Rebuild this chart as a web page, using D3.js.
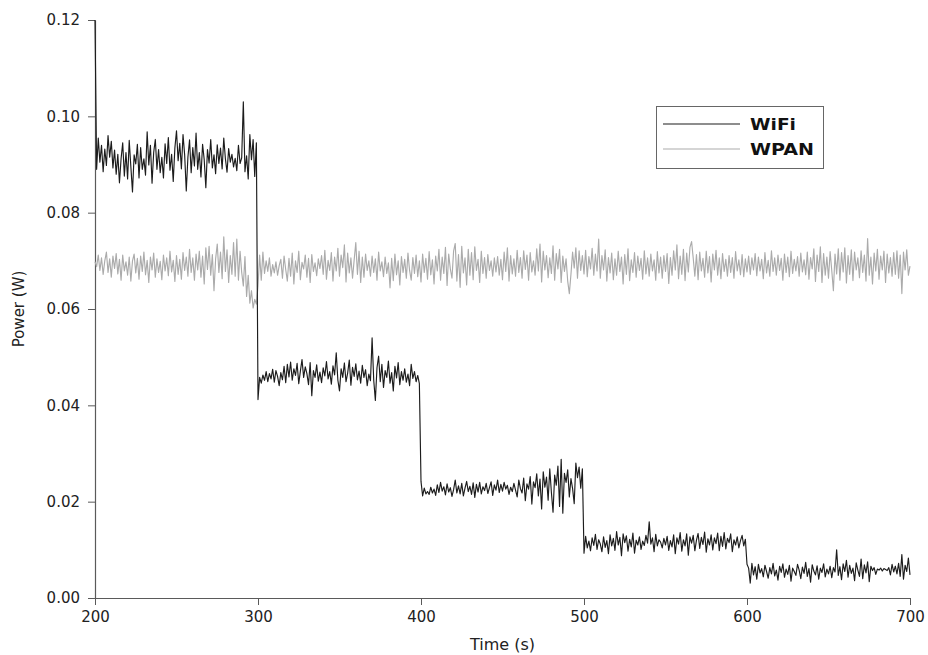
<!DOCTYPE html>
<html>
<head>
<meta charset="utf-8">
<script src="https://cdn.jsdelivr.net/npm/d3@7"></script>
<style>
  html, body { margin: 0; padding: 0; background: #fff; }
  svg { display: block; }
  .tick text { font-family: "DejaVu Sans", sans-serif; }
</style>
</head>
<body>
<svg id="chart" width="928" height="655"></svg>
<script>
// Sampling: one reading per second from t = 200 s to t = 700 s
const startTime = 200;
const sampleStep = 1;

// WiFi interface power (W)
const wifiPower = [
  .1200,.0890,.0955,.0905,.0940,.0885,.0932,.0898,.0960,.0915,
  .0948,.0893,.0930,.0880,.0921,.0862,.0912,.0945,.0876,.0925,
  .0870,.0950,.0895,.0843,.0920,.0901,.0942,.0872,.0935,.0890,
  .0912,.0878,.0968,.0899,.0940,.0861,.0925,.0952,.0890,.0931,
  .0883,.0915,.0872,.0943,.0902,.0956,.0888,.0921,.0865,.0934,
  .0970,.0908,.0944,.0891,.0962,.0920,.0845,.0915,.0951,.0883,
  .0935,.0897,.0965,.0890,.0925,.0874,.0942,.0910,.0852,.0931,
  .0903,.0952,.0893,.0920,.0881,.0941,.0902,.0934,.0891,.0955,
  .0912,.0884,.0933,.0905,.0921,.0895,.0913,.0887,.0940,.0902,
  .0914,.1030,.0885,.0918,.0870,.0962,.0910,.0952,.0875,.0945,
  .0412,.0458,.0446,.0463,.0452,.0470,.0449,.0466,.0455,.0475,
  .0448,.0472,.0460,.0441,.0468,.0453,.0481,.0447,.0485,.0459,
  .0490,.0452,.0476,.0462,.0487,.0445,.0471,.0495,.0458,.0480,
  .0466,.0443,.0489,.0420,.0472,.0458,.0484,.0450,.0469,.0447,
  .0478,.0461,.0491,.0455,.0470,.0444,.0482,.0463,.0509,.0452,
  .0430,.0476,.0458,.0488,.0449,.0467,.0494,.0442,.0479,.0460,
  .0486,.0453,.0471,.0446,.0483,.0458,.0474,.0441,.0465,.0451,
  .0540,.0452,.0410,.0478,.0502,.0449,.0485,.0437,.0472,.0458,
  .0492,.0446,.0468,.0430,.0481,.0457,.0489,.0443,.0470,.0452,
  .0476,.0448,.0465,.0441,.0485,.0456,.0470,.0449,.0462,.0445,
  .0242,.0212,.0228,.0216,.0221,.0215,.0230,.0218,.0226,.0213,
  .0235,.0219,.0240,.0222,.0231,.0214,.0237,.0220,.0229,.0211,
  .0225,.0245,.0218,.0233,.0216,.0238,.0212,.0228,.0242,.0221,
  .0232,.0215,.0239,.0209,.0236,.0220,.0240,.0216,.0231,.0223,
  .0238,.0217,.0229,.0241,.0213,.0235,.0224,.0245,.0219,.0236,
  .0222,.0240,.0226,.0234,.0215,.0230,.0221,.0238,.0224,.0210,
  .0245,.0227,.0218,.0249,.0202,.0237,.0226,.0252,.0195,.0241,
  .0229,.0258,.0212,.0247,.0185,.0262,.0230,.0251,.0203,.0268,
  .0219,.0178,.0255,.0234,.0274,.0190,.0288,.0176,.0259,.0240,
  .0266,.0210,.0248,.0227,.0196,.0280,.0250,.0272,.0228,.0268,
  .0093,.0128,.0104,.0118,.0098,.0125,.0109,.0132,.0101,.0121,
  .0112,.0096,.0127,.0105,.0119,.0092,.0131,.0108,.0124,.0099,
  .0138,.0110,.0126,.0088,.0133,.0115,.0129,.0097,.0122,.0106,
  .0135,.0093,.0120,.0110,.0127,.0101,.0118,.0109,.0130,.0114,
  .0158,.0112,.0125,.0096,.0132,.0108,.0121,.0116,.0104,.0124,
  .0110,.0128,.0099,.0119,.0106,.0131,.0092,.0125,.0112,.0136,
  .0097,.0121,.0108,.0133,.0089,.0127,.0114,.0130,.0098,.0120,
  .0134,.0103,.0126,.0111,.0137,.0095,.0123,.0110,.0131,.0100,
  .0125,.0113,.0135,.0098,.0128,.0107,.0136,.0102,.0124,.0115,
  .0133,.0096,.0121,.0110,.0127,.0104,.0119,.0130,.0108,.0122,
  .0070,.0062,.0031,.0072,.0048,.0065,.0039,.0070,.0052,.0061,
  .0044,.0068,.0055,.0041,.0063,.0050,.0072,.0046,.0058,.0037,
  .0066,.0053,.0071,.0043,.0060,.0049,.0068,.0035,.0062,.0055,
  .0047,.0070,.0058,.0040,.0064,.0051,.0074,.0045,.0061,.0033,
  .0069,.0056,.0048,.0067,.0039,.0062,.0053,.0071,.0044,.0060,
  .0050,.0066,.0042,.0063,.0054,.0100,.0047,.0065,.0038,.0071,
  .0055,.0078,.0043,.0068,.0051,.0062,.0036,.0073,.0058,.0045,
  .0081,.0040,.0069,.0052,.0075,.0034,.0066,.0057,.0063,.0049,
  .0060,.0058,.0062,.0056,.0061,.0059,.0057,.0063,.0048,.0070,
  .0054,.0066,.0050,.0072,.0045,.0090,.0039,.0068,.0055,.0083,
  .0048
];

// WPAN interface power (W)
const wpanPower = [
  .0698,.0688,.0712,.0680,.0706,.0672,.0700,.0718,.0676,.0704,
  .0666,.0710,.0684,.0715,.0673,.0703,.0660,.0712,.0679,.0698,
  .0670,.0708,.0658,.0700,.0714,.0675,.0705,.0662,.0710,.0678,
  .0718,.0671,.0701,.0655,.0708,.0681,.0716,.0666,.0704,.0676,
  .0699,.0661,.0712,.0679,.0706,.0669,.0720,.0677,.0701,.0657,
  .0711,.0672,.0703,.0662,.0717,.0680,.0708,.0668,.0724,.0676,
  .0706,.0660,.0714,.0681,.0720,.0666,.0710,.0652,.0727,.0682,
  .0730,.0670,.0713,.0638,.0704,.0735,.0676,.0718,.0663,.0750,
  .0678,.0723,.0655,.0711,.0672,.0738,.0668,.0745,.0660,.0720,
  .0676,.0648,.0709,.0626,.0670,.0612,.0638,.0602,.0620,.0610,
  .0648,.0712,.0660,.0718,.0674,.0700,.0678,.0706,.0668,.0692,
  .0675,.0698,.0670,.0690,.0703,.0664,.0710,.0682,.0658,.0705,
  .0668,.0716,.0652,.0700,.0676,.0720,.0661,.0697,.0683,.0712,
  .0666,.0705,.0655,.0713,.0678,.0696,.0669,.0704,.0684,.0711,
  .0672,.0722,.0662,.0701,.0680,.0717,.0658,.0708,.0679,.0726,
  .0668,.0712,.0686,.0733,.0656,.0716,.0675,.0706,.0664,.0702,
  .0738,.0672,.0720,.0655,.0708,.0666,.0714,.0680,.0700,.0668,
  .0710,.0676,.0704,.0660,.0718,.0679,.0698,.0667,.0708,.0674,
  .0696,.0644,.0705,.0659,.0714,.0671,.0700,.0650,.0709,.0676,
  .0703,.0664,.0716,.0680,.0660,.0707,.0674,.0712,.0667,.0700,
  .0656,.0714,.0676,.0705,.0662,.0719,.0671,.0702,.0652,.0710,
  .0679,.0724,.0660,.0708,.0674,.0728,.0649,.0714,.0683,.0664,
  .0720,.0736,.0658,.0713,.0645,.0730,.0675,.0706,.0650,.0724,
  .0670,.0717,.0661,.0729,.0680,.0703,.0655,.0720,.0674,.0707,
  .0664,.0713,.0680,.0700,.0668,.0706,.0677,.0709,.0670,.0703,
  .0661,.0718,.0678,.0727,.0658,.0711,.0673,.0704,.0668,.0722,
  .0676,.0707,.0664,.0721,.0682,.0712,.0660,.0717,.0677,.0700,
  .0670,.0725,.0679,.0735,.0656,.0720,.0681,.0711,.0665,.0706,
  .0674,.0731,.0660,.0715,.0683,.0724,.0655,.0710,.0678,.0704,
  .0658,.0632,.0672,.0718,.0685,.0727,.0664,.0721,.0680,.0711,
  .0673,.0722,.0667,.0709,.0683,.0726,.0670,.0714,.0679,.0745,
  .0664,.0711,.0681,.0723,.0658,.0707,.0675,.0716,.0661,.0704,
  .0670,.0720,.0678,.0708,.0652,.0713,.0672,.0725,.0659,.0702,
  .0676,.0717,.0666,.0710,.0680,.0705,.0662,.0721,.0673,.0706,
  .0668,.0714,.0679,.0702,.0660,.0719,.0675,.0708,.0664,.0711,
  .0678,.0715,.0653,.0707,.0670,.0721,.0681,.0733,.0663,.0710,
  .0672,.0724,.0659,.0716,.0677,.0728,.0740,.0706,.0668,.0713,
  .0661,.0718,.0679,.0705,.0666,.0720,.0675,.0709,.0656,.0714,
  .0681,.0722,.0670,.0706,.0663,.0715,.0678,.0703,.0668,.0711,
  .0676,.0707,.0664,.0719,.0679,.0702,.0671,.0713,.0667,.0704,
  .0677,.0710,.0672,.0706,.0681,.0715,.0669,.0708,.0679,.0703,
  .0663,.0717,.0675,.0701,.0668,.0721,.0678,.0706,.0670,.0712,
  .0680,.0705,.0660,.0714,.0676,.0708,.0667,.0720,.0674,.0703,
  .0679,.0709,.0668,.0716,.0677,.0702,.0671,.0718,.0662,.0707,
  .0683,.0725,.0657,.0712,.0678,.0729,.0655,.0715,.0670,.0708,
  .0664,.0719,.0680,.0638,.0714,.0673,.0725,.0660,.0717,.0677,
  .0727,.0654,.0711,.0672,.0723,.0659,.0718,.0681,.0706,.0665,
  .0721,.0676,.0712,.0658,.0746,.0670,.0708,.0652,.0716,.0679,
  .0724,.0662,.0710,.0681,.0720,.0655,.0714,.0675,.0707,.0668,
  .0717,.0672,.0721,.0664,.0712,.0632,.0718,.0681,.0723,.0670,
  .0689
];

// Axis ticks and labels
const xTicks = [200, 300, 400, 500, 600, 700];
const yTicks = [0, 0.02, 0.04, 0.06, 0.08, 0.10, 0.12];
const seriesNames = ["WiFi", "WPAN"];
const seriesColors = ["#1c1c1c", "#ababab"];
const xLabel = "Time (s)";
const yLabel = "Power (W)";

const svg = d3.select("#chart");
const plot = { left: 95, right: 910, top: 20, bottom: 598 };

const x = d3.scaleLinear().domain([200, 700]).range([plot.left, plot.right]);
const y = d3.scaleLinear().domain([0, 0.12]).range([plot.bottom, plot.top]);

const toPoints = vals => vals.map((v, i) => ({ t: startTime + i * sampleStep, v }));
const series = [wifiPower, wpanPower].map((vals, k) => ({
  name: seriesNames[k], color: seriesColors[k], points: toPoints(vals)
}));

// Axes
const axisColor = "#5a5a5a";
const xAxis = svg.append("g")
  .attr("transform", `translate(0,${plot.bottom})`)
  .call(d3.axisBottom(x).tickValues(xTicks).tickFormat(d3.format("d")).tickSize(7).tickSizeOuter(0));
const yAxis = svg.append("g")
  .attr("transform", `translate(${plot.left},0)`)
  .call(d3.axisLeft(y).tickValues(yTicks).tickFormat(d3.format(".2f")).tickSize(7).tickSizeOuter(0));

[xAxis, yAxis].forEach(g => {
  g.select(".domain").attr("stroke", axisColor).attr("stroke-width", 1.2);
  g.selectAll(".tick line").attr("stroke", axisColor);
  g.selectAll(".tick text")
    .attr("fill", "#222")
    .style("font-size", "15px");
});
xAxis.selectAll(".tick text").attr("dy", "0.95em");
yAxis.selectAll(".tick text").attr("x", -15);

// Lines (WPAN underneath, WiFi on top)
const line = d3.line().x(d => x(d.t)).y(d => y(d.v));
svg.append("g").selectAll("path")
  .data(series.slice().reverse())
  .join("path")
  .attr("d", d => line(d.points))
  .attr("fill", "none")
  .attr("stroke", d => d.color)
  .attr("stroke-width", 1.15)
  .attr("stroke-linejoin", "round");

// Axis titles
svg.append("text")
  .attr("x", (plot.left + plot.right) / 2)
  .attr("y", 650)
  .attr("text-anchor", "middle")
  .style("font-family", "'DejaVu Sans', sans-serif")
  .style("font-size", "16px")
  .attr("fill", "#222")
  .text(xLabel);

svg.append("text")
  .attr("transform", "translate(24,309) rotate(-90)")
  .attr("text-anchor", "middle")
  .style("font-family", "'DejaVu Sans', sans-serif")
  .style("font-size", "15px")
  .attr("fill", "#222")
  .text(yLabel);

// Legend
const legend = svg.append("g").attr("transform", "translate(656,106)");
legend.append("rect")
  .attr("x", 0.5).attr("y", 0.5)
  .attr("width", 167).attr("height", 62)
  .attr("fill", "#fff")
  .attr("stroke", "#666")
  .attr("stroke-width", 1);
const legendWidths = [46, 64];
series.forEach((s, i) => {
  const yy = 18 + i * 25;
  legend.append("line")
    .attr("x1", 7).attr("x2", 84)
    .attr("y1", yy).attr("y2", yy)
    .attr("stroke", s.color).attr("stroke-width", 1.2);
  legend.append("text")
    .attr("x", 94).attr("y", yy + 5.5)
    .style("font-family", "'DejaVu Sans', sans-serif")
    .style("font-weight", "bold")
    .style("font-size", "15px")
    .attr("textLength", legendWidths[i])
    .attr("lengthAdjust", "spacingAndGlyphs")
    .attr("fill", "#111")
    .text(s.name);
});
</script>
</body>
</html>
